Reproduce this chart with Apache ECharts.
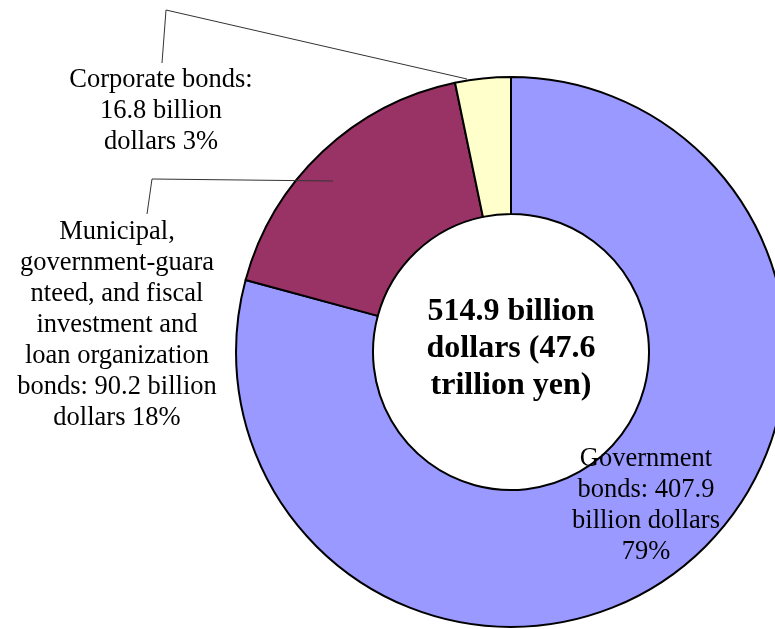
<!DOCTYPE html>
<html>
<head>
<meta charset="utf-8">
<script src="https://cdn.jsdelivr.net/npm/echarts@6/dist/echarts.min.js"></script>
<style>
html,body{margin:0;padding:0;background:#fff;}
#chart{width:775px;height:629px;}
</style>
</head>
<body>
<div id="chart"></div>
<script>
// ---- data ----
const categories = [
  'Government bonds',
  'Municipal, government-guaranteed, and fiscal investment and loan organization bonds',
  'Corporate bonds'
];
const values = [407.9, 90.2, 16.8];          // billion dollars
const colors = ['#9999FF', '#993366', '#FFFFCC'];
const labelTemplates = [
  'Government\nbonds: {v}\nbillion dollars\n{p}%',
  'Municipal,\ngovernment-guara\nnteed, and fiscal\ninvestment and\nloan organization\nbonds: {v} billion\ndollars {p}%',
  'Corporate bonds:\n{v} billion\ndollars {p}%'
];
const totalYenTrillion = 47.6;

// ---- layout (positions only) ----
const CX = 511, CY = 352, R_IN = 138, R_OUT = 275;
const labelPos = [
  { x: 646, y: 506 },
  { x: 117, y: 325, line: [[333, 181], [152, 179], [147, 214]] },
  { x: 161, y: 111, line: [[467, 79], [166, 10], [162, 63]] }
];

const total = values.reduce((a, b) => a + b, 0);
const serif = '"Liberation Serif", "Times New Roman", serif';

// leader lines drawn on top of the slices
const leaderGraphics = labelPos.filter(lp => lp.line).map(lp => ({
  type: 'polyline',
  z: 90,
  shape: { points: lp.line },
  style: { stroke: '#333', lineWidth: 1, fill: null }
}));

const chart = echarts.init(document.getElementById('chart'), null, { renderer: 'canvas' });
chart.setOption({
  animation: false,
  backgroundColor: '#ffffff',
  graphic: leaderGraphics.concat([{
    type: 'text',
    x: CX,
    y: CY - 3,
    z: 100,
    style: {
      text: total.toFixed(1) + ' billion\ndollars (' + totalYenTrillion.toFixed(1) + '\ntrillion yen)',
      font: 'bold 32px ' + serif,
      fill: '#000',
      textAlign: 'center',
      textVerticalAlign: 'middle',
      lineHeight: 37
    }
  }]),
  series: [{
    type: 'pie',
    center: [CX, CY],
    radius: [R_IN, R_OUT],
    startAngle: 90,
    clockwise: true,
    avoidLabelOverlap: false,
    percentPrecision: 0,
    itemStyle: { borderColor: '#000', borderWidth: 2 },
    emphasis: { disabled: true },
    label: {
      show: true,
      color: '#000',
      fontFamily: serif,
      fontSize: 26.5,
      lineHeight: 31,
      align: 'center',
      formatter: function (p) {
        return labelTemplates[p.dataIndex]
          .replace('{v}', p.value.toFixed(1))
          .replace('{p}', p.percent);
      }
    },
    labelLine: { show: false },
    labelLayout: function (params) {
      const lp = labelPos[params.dataIndex];
      return { x: lp.x, y: lp.y, align: 'center', verticalAlign: 'middle' };
    },
    data: categories.map((name, i) => ({
      name: name,
      value: values[i],
      itemStyle: { color: colors[i] },
      label: { position: i === 0 ? 'inside' : 'outside' }
    }))
  }]
});
</script>
</body>
</html>
